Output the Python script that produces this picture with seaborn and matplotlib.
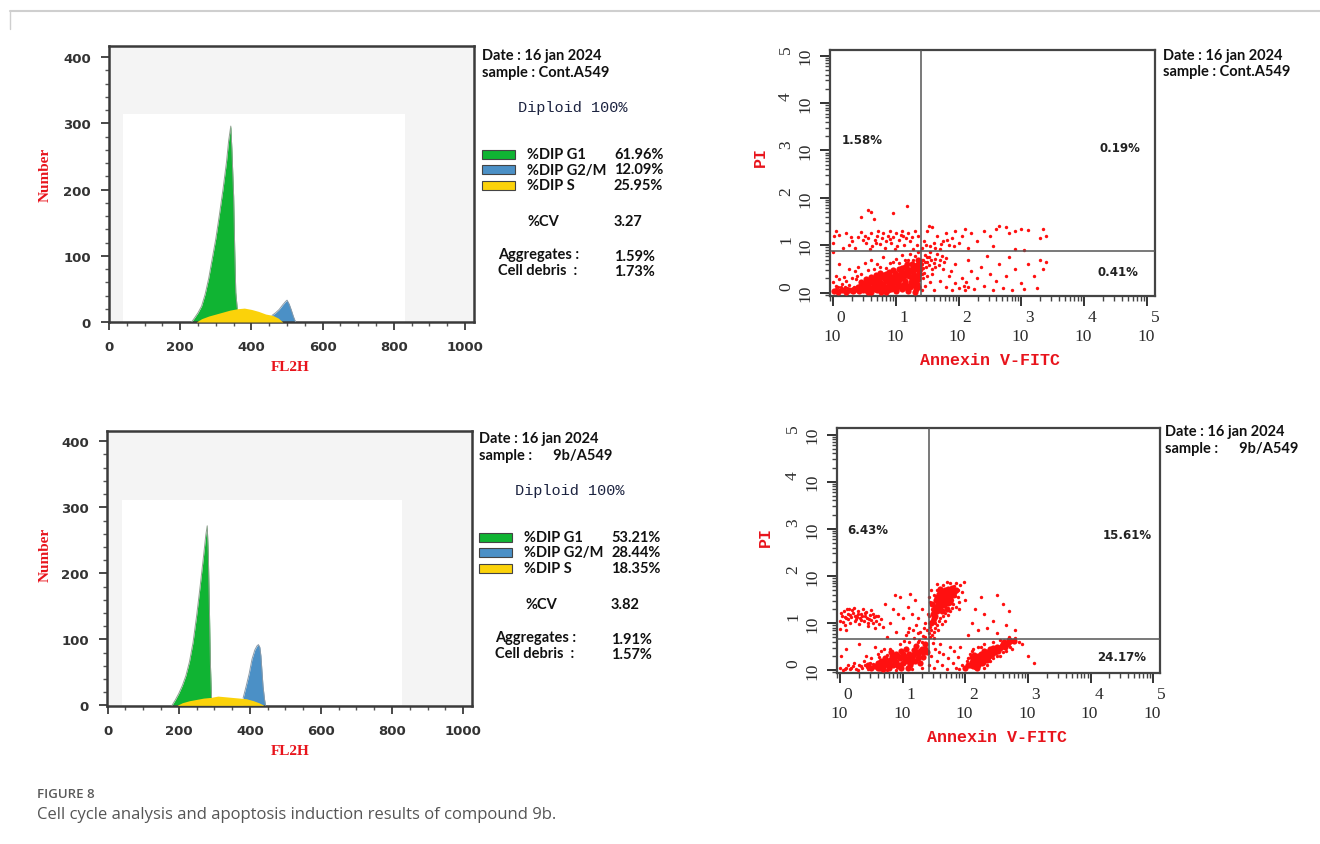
import numpy as np
import pandas as pd
import seaborn as sns
import matplotlib.pyplot as plt
from matplotlib.ticker import MultipleLocator, LogLocator, NullFormatter
from matplotlib.patches import Rectangle
from matplotlib.lines import Line2D

# %% data
# cell cycle histograms (FL2H channel, counts)
ctrl_g1_x = [232, 240, 250, 260, 270, 280, 290, 300, 310, 320, 330, 336, 342, 345, 350, 353, 356, 360]
ctrl_g1_y = [0, 6, 14, 24, 42, 66, 96, 126, 162, 200, 242, 274, 296, 262, 190, 110, 45, 21]
ctrl_s_x = [245, 260, 280, 300, 320, 340, 360, 380, 400, 420, 440, 460, 475, 488]
ctrl_s_y = [0, 5, 9, 12, 15, 18, 20, 21, 19, 16, 12, 10, 6, 0]
ctrl_g2_x = [458, 468, 478, 488, 496, 500, 506, 512, 518, 524]
ctrl_g2_y = [10, 14, 19, 26, 31, 33, 27, 18, 8, 0]

cpd_g1_x = [181, 190, 200, 210, 220, 230, 240, 250, 260, 270, 276, 280, 283, 286, 289, 292]
cpd_g1_y = [0, 8, 18, 30, 45, 66, 95, 135, 180, 228, 258, 272, 230, 150, 62, 12]
cpd_s_x = [195, 210, 230, 250, 270, 290, 310, 330, 350, 370, 390, 410, 425, 440]
cpd_s_y = [0, 4, 7, 9, 11, 12, 14, 13, 12, 11, 10, 7, 4, 0]
cpd_g2_x = [381, 390, 398, 406, 414, 420, 424, 428, 431, 434, 437, 441, 444]
cpd_g2_y = [11, 30, 48, 70, 84, 90, 92, 88, 75, 52, 29, 10, 0]

phase_labels = ['%DIP G1', '%DIP G2/M', '%DIP S']
ctrl_phase_vals = ['61.96%', '12.09%', '25.95%']
cpd_phase_vals = ['53.21%', '28.44%', '18.35%']
ctrl_cv, cpd_cv = '3.27', '3.82'
ctrl_aggr, ctrl_debris = '1.59%', '1.73%'
cpd_aggr, cpd_debris = '1.91%', '1.57%'

# annexin V / PI dot plots, coordinates in decades (log10)
ctrl_dense = [
    (0.42, 0.04), (0.47, 0.12), (0.5, 0.2), (0.53, 0.06), (0.56, 0.15), (0.58, 0.26), (0.61, 0.02), (0.63, 0.1),
    (0.65, 0.19), (0.67, 0.3), (0.7, 0.05), (0.72, 0.14), (0.74, 0.23), (0.76, 0.34), (0.78, 0.08), (0.8, 0.18),
    (0.82, 0.28), (0.84, 0.02), (0.86, 0.12), (0.88, 0.22), (0.9, 0.36), (0.92, 0.07), (0.94, 0.16), (0.96, 0.27),
    (0.98, 0.42), (1.0, 0.03), (1.02, 0.11), (1.04, 0.2), (1.06, 0.31), (1.08, 0.45), (1.1, 0.07), (1.12, 0.16),
    (1.14, 0.25), (1.16, 0.37), (1.18, 0.5), (1.2, 0.03), (1.22, 0.12), (1.24, 0.22), (1.26, 0.33), (1.28, 0.44),
    (1.3, 0.56), (1.32, 0.08), (1.34, 0.18), (1.36, 0.29), (1.37, 0.41), (1.38, 0.6), (1.35, 0.68), (1.25, 0.6),
    (1.15, 0.55), (1.05, 0.5), (0.95, 0.48), (0.85, 0.4), (0.75, 0.42), (0.68, 0.38), (0.6, 0.33), (0.52, 0.28),
    (0.45, 0.22), (0.4, 0.12), (1.3, 0.02), (0.55, 0.01), (0.62, 0.22), (0.73, 0.29), (0.83, 0.33), (0.93, 0.31),
    (1.03, 0.38), (1.13, 0.42), (1.23, 0.48), (1.33, 0.5), (0.87, 0.05), (0.97, 0.09), (1.07, 0.14), (1.17, 0.09),
    (1.27, 0.17), (0.77, 0.02), (0.69, 0.12), (0.59, 0.09), (0.48, 0.06), (1.11, 0.3), (1.01, 0.25), (0.91, 0.24),
    (0.81, 0.11), (0.71, 0.22), (1.21, 0.36), (1.31, 0.27), (1.36, 0.12),
    (0.02, 0.03), (0.08, 0.02), (0.14, 0.05), (0.2, 0.02), (0.26, 0.06), (0.32, 0.03), (0.37, 0.08), (0.44, 0.16),
    (0.51, 0.11), (0.57, 0.21), (0.64, 0.27), (0.7, 0.33), (0.79, 0.37), (0.89, 0.44), (0.99, 0.35), (1.09, 0.39),
    (1.19, 0.44), (1.29, 0.38), (1.38, 0.5), (1.34, 0.58), (1.27, 0.54), (1.18, 0.6), (1.1, 0.52), (0.66, 0.07),
    (0.74, 0.17), (0.85, 0.26), (0.95, 0.2), (1.05, 0.26), (1.15, 0.21), (1.25, 0.28), (1.35, 0.35), (0.53, 0.17),
    (0.46, 0.09), (0.9, 0.14), (1.0, 0.06), (1.2, 0.14),
]
ctrl_sparse = [
    # near origin
    (0.02, 0.02), (0.05, 0.08), (0.08, 0.01), (0.1, 0.05), (0.12, 0.12), (0.15, 0.03), (0.18, 0.07), (0.2, 0.0),
    (0.22, 0.1), (0.25, 0.04), (0.28, 0.08), (0.3, 0.02), (0.33, 0.12), (0.04, 0.15), (0.14, 0.18), (0.26, 0.16),
    (0.35, 0.05), (0.07, 0.11), (0.19, 0.13), (0.31, 0.09), (0.0, 0.22), (0.09, 0.28), (0.17, 0.33), (0.36, 0.28),
    # fringe of main population
    (0.3, 0.3), (0.35, 0.45), (0.4, 0.55), (0.5, 0.62), (0.6, 0.7), (0.7, 0.6), (0.8, 0.75), (0.9, 0.62),
    (1.0, 0.72), (1.1, 0.8), (1.2, 0.7), (1.3, 0.78), (0.25, 0.5), (0.1, 0.6), (0.05, 0.35), (0.2, 0.25),
    (0.65, 0.5), (0.95, 0.65), (1.22, 0.82), (1.36, 0.85), (0.45, 0.4), (0.55, 0.48), (0.75, 0.55), (0.85, 0.52),
    (1.05, 0.62), (1.15, 0.68), (1.28, 0.68), (0.38, 0.36),
    # upper left
    (0.02, 1.2), (0.05, 1.3), (0.1, 1.22), (0.2, 1.25), (0.3, 1.1), (0.35, 0.95), (0.4, 1.18), (0.45, 1.28),
    (0.5, 1.2), (0.52, 1.05), (0.55, 1.15), (0.6, 1.25), (0.62, 0.98), (0.66, 1.12), (0.7, 1.2), (0.72, 1.3),
    (0.75, 1.02), (0.78, 1.15), (0.8, 1.25), (0.83, 0.95), (0.85, 1.1), (0.88, 1.2), (0.9, 1.3), (0.93, 1.05),
    (0.96, 1.18), (1.0, 1.25), (1.02, 0.98), (1.05, 1.12), (1.08, 1.22), (1.1, 1.3), (1.13, 1.0), (1.16, 1.15),
    (1.2, 1.25), (1.23, 1.08), (1.26, 1.18), (1.3, 1.3), (1.33, 1.0), (1.36, 1.2), (0.15, 0.95), (0.25, 1.0),
    (0.58, 0.92), (0.98, 0.92), (1.28, 0.93), (0.55, 1.75), (0.6, 1.7), (0.45, 1.6), (0.95, 1.68), (1.18, 1.82),
    (0.65, 1.55), (0.0, 1.05), (0.0, 0.85), (0.47, 1.12), (0.68, 1.05), (0.91, 1.14), (1.12, 1.2), (0.28, 1.18),
    # upper right
    (1.42, 0.95), (1.45, 1.1), (1.5, 1.3), (1.55, 0.98), (1.6, 1.05), (1.65, 1.2), (1.7, 0.92), (1.75, 1.1),
    (1.8, 1.25), (1.85, 1.0), (1.9, 1.15), (1.95, 1.3), (2.0, 1.05), (2.05, 1.2), (2.1, 1.35), (2.15, 0.95),
    (2.2, 1.25), (2.3, 1.1), (2.4, 1.3), (2.5, 1.2), (2.6, 1.35), (2.65, 1.4), (2.75, 1.38), (2.8, 1.25),
    (2.9, 1.3), (3.0, 1.35), (3.1, 1.32), (3.3, 1.15), (3.35, 1.35), (3.4, 1.2), (2.55, 0.98), (2.9, 0.93),
    (3.05, 0.9), (1.52, 1.4), (1.58, 1.38), (1.48, 1.0), (1.62, 0.95), (1.72, 1.02), (1.82, 1.12), (1.92, 0.98),
    # just right of the gate
    (1.4, 0.5), (1.42, 0.6), (1.44, 0.7), (1.46, 0.8), (1.48, 0.55), (1.5, 0.65), (1.52, 0.75), (1.55, 0.85),
    (1.57, 0.5), (1.6, 0.62), (1.62, 0.72), (1.65, 0.82), (1.68, 0.58), (1.7, 0.68), (1.73, 0.78), (1.76, 0.64),
    (1.8, 0.74), (1.45, 0.42), (1.5, 0.35), (1.58, 0.4), (1.43, 0.3), (1.47, 0.15), (1.55, 0.22), (1.41, 0.05),
    (1.41, 0.68), (1.44, 0.52), (1.47, 0.64), (1.53, 0.58), (1.56, 0.7), (1.63, 0.55), (1.41, 0.4), (1.49, 0.76),
    # lower right
    (1.6, 0.05), (1.7, 0.25), (1.8, 0.12), (1.85, 0.35), (1.9, 0.05), (1.95, 0.2), (2.0, 0.1), (2.05, 0.3),
    (2.08, 0.15), (2.1, 0.05), (2.12, 0.22), (2.15, 0.12), (2.2, 0.45), (2.25, 0.08), (2.3, 0.3), (2.35, 0.55),
    (2.4, 0.15), (2.5, 0.4), (2.55, 0.05), (2.6, 0.25), (2.65, 0.6), (2.7, 0.1), (2.75, 0.35), (2.8, 0.75),
    (2.85, 0.05), (2.9, 0.5), (3.0, 0.2), (3.05, 0.08), (3.1, 0.6), (3.2, 0.35), (3.25, 0.1), (3.3, 0.7),
    (3.35, 0.5), (3.4, 0.65), (1.75, 0.5), (1.95, 0.6), (2.15, 0.7), (2.45, 0.78), (1.88, 0.45),
]

cpd_dense = [
    # lower left band
    (0.55, 0.08), (0.6, 0.15), (0.63, 0.05), (0.66, 0.2), (0.7, 0.1), (0.72, 0.25), (0.75, 0.15), (0.78, 0.05),
    (0.8, 0.22), (0.83, 0.3), (0.85, 0.12), (0.88, 0.2), (0.9, 0.35), (0.92, 0.08), (0.95, 0.25), (0.97, 0.4),
    (1.0, 0.15), (1.02, 0.3), (1.05, 0.45), (1.07, 0.2), (1.1, 0.35), (1.12, 0.1), (1.15, 0.28), (1.18, 0.42),
    (1.2, 0.2), (1.22, 0.52), (1.25, 0.35), (1.28, 0.15), (1.3, 0.45), (1.33, 0.28), (1.36, 0.55), (1.38, 0.38),
    (0.68, 0.02), (0.93, 0.3), (1.08, 0.05), (0.82, 0.38), (0.98, 0.05),
    (0.6, 0.05), (0.65, 0.12), (0.72, 0.18), (0.77, 0.1), (0.86, 0.28), (0.9, 0.18), (0.96, 0.12), (1.0, 0.35),
    (1.04, 0.22), (1.1, 0.25), (1.14, 0.18), (1.17, 0.32), (1.24, 0.25), (1.28, 0.4), (1.32, 0.38), (1.35, 0.45),
    (1.2, 0.4), (0.8, 0.14), (0.5, 0.05), (0.45, 0.1),
    # upper middle
    (1.45, 1.0), (1.48, 1.2), (1.5, 1.1), (1.52, 1.35), (1.55, 1.25), (1.57, 1.45), (1.6, 1.35), (1.62, 1.55),
    (1.63, 1.4), (1.65, 1.6), (1.67, 1.48), (1.68, 1.7), (1.7, 1.55), (1.72, 1.42), (1.74, 1.65), (1.76, 1.52),
    (1.78, 1.75), (1.8, 1.6), (1.58, 1.62), (1.53, 1.5), (1.62, 1.25), (1.7, 1.3), (1.85, 1.7), (1.47, 1.4),
    (1.6, 1.72), (1.5, 1.28), (1.56, 1.4), (1.6, 1.48), (1.64, 1.52), (1.66, 1.38), (1.69, 1.62), (1.73, 1.58),
    (1.75, 1.45), (1.58, 1.3), (1.55, 1.55), (1.64, 1.66), (1.72, 1.72), (1.82, 1.66), (1.52, 1.15), (1.48, 1.05),
    # lower right
    (2.05, 0.12), (2.1, 0.18), (2.12, 0.08), (2.15, 0.25), (2.18, 0.15), (2.2, 0.3), (2.22, 0.2), (2.25, 0.35),
    (2.27, 0.25), (2.3, 0.4), (2.32, 0.28), (2.35, 0.38), (2.38, 0.3), (2.4, 0.45), (2.43, 0.35), (2.46, 0.42),
    (2.5, 0.5), (2.53, 0.4), (2.56, 0.48), (2.6, 0.55), (2.64, 0.5), (2.68, 0.58), (2.72, 0.62), (2.2, 0.1),
    (2.28, 0.18), (2.35, 0.22), (2.14, 0.32), (2.0, 0.05),
    (2.08, 0.1), (2.16, 0.2), (2.2, 0.22), (2.24, 0.28), (2.26, 0.15), (2.3, 0.3), (2.33, 0.35), (2.36, 0.28),
    (2.4, 0.36), (2.42, 0.4), (2.45, 0.48), (2.48, 0.38), (2.52, 0.45), (2.58, 0.52), (2.62, 0.6), (2.66, 0.55),
    (2.7, 0.65), (2.78, 0.62), (2.18, 0.05), (2.1, 0.28),
]
cpd_sparse = [
    # upper left
    (0.0, 1.05), (0.03, 1.15), (0.06, 1.25), (0.08, 0.95), (0.1, 1.1), (0.12, 1.2), (0.14, 1.3), (0.16, 1.0),
    (0.18, 1.12), (0.2, 1.22), (0.22, 1.32), (0.24, 1.05), (0.26, 1.16), (0.28, 1.26), (0.3, 0.98), (0.32, 1.1),
    (0.34, 1.2), (0.36, 1.3), (0.38, 1.04), (0.4, 1.14), (0.42, 1.24), (0.44, 0.94), (0.46, 1.08), (0.48, 1.18),
    (0.5, 1.28), (0.52, 1.0), (0.54, 1.12), (0.56, 0.9), (0.58, 1.05), (0.6, 1.15), (0.62, 0.98), (0.65, 1.08),
    (0.68, 0.92), (0.05, 1.02), (0.15, 1.18), (0.25, 1.08), (0.35, 1.15), (0.45, 1.0), (0.0, 0.88), (0.1, 0.85),
    (0.02, 1.22), (0.07, 1.12), (0.13, 1.08), (0.19, 1.28), (0.23, 1.14), (0.29, 1.2), (0.33, 1.06), (0.39, 1.22),
    (0.43, 1.1), (0.49, 1.06), (0.53, 1.2), (0.57, 1.14), (0.11, 1.3), (0.27, 1.12),
    # lower left tail
    (0.05, 0.0), (0.1, 0.05), (0.15, 0.02), (0.2, 0.08), (0.25, 0.03), (0.3, 0.1), (0.35, 0.05), (0.4, 0.12),
    (0.45, 0.02), (0.48, 0.15), (0.12, 0.12), (0.22, 0.15), (0.38, 0.2), (0.5, 0.25), (0.0, 0.05), (0.28, 0.0),
    (0.42, 0.3), (0.6, 0.35), (0.7, 0.45), (0.55, 0.5), (0.1, 0.45), (0.3, 0.55), (0.02, 0.3),
    (0.08, 0.02), (0.18, 0.04), (0.33, 0.08), (0.43, 0.06), (0.52, 0.14), (0.62, 0.28), (0.75, 0.32),
    (0.65, 0.4), (0.8, 0.45), (0.95, 0.55), (1.1, 0.6), (1.25, 0.6), (0.9, 0.0), (1.15, 0.02), (1.3, 0.05),
    (0.75, 0.0),
    # around upper middle
    (1.43, 0.7), (1.45, 0.85), (1.5, 0.8), (1.55, 0.95), (1.58, 1.05), (1.65, 1.15), (1.75, 1.25), (1.8, 1.4),
    (1.88, 1.55), (1.92, 1.8), (1.95, 1.65), (1.85, 1.85), (1.7, 1.88), (1.55, 1.82), (1.45, 1.7), (1.42, 1.55),
    (2.0, 1.5), (1.9, 1.3), (1.98, 1.88), (1.5, 0.68), (1.44, 0.92), (1.46, 1.3), (1.42, 1.15), (1.52, 0.9),
    (1.6, 1.1), (1.68, 1.22), (1.78, 1.5), (1.84, 1.58), (1.42, 0.78), (1.47, 0.75),
    (1.4, 1.2), (1.43, 1.45), (1.5, 1.6), (1.55, 1.7), (1.65, 1.8), (1.75, 1.85), (1.82, 1.78), (1.88, 1.7),
    (1.9, 1.45), (1.85, 1.35), (1.78, 1.32), (1.72, 1.18), (1.68, 1.05), (1.62, 0.98), (1.57, 0.85), (1.52, 1.0),
    # between the populations
    (0.75, 0.7), (0.8, 1.0), (0.85, 1.3), (0.9, 0.8), (0.95, 1.55), (1.0, 1.1), (1.05, 0.75), (1.08, 1.35),
    (1.1, 0.9), (1.15, 1.2), (1.18, 0.68), (1.2, 1.5), (1.22, 0.95), (1.25, 1.1), (1.28, 0.8), (1.3, 1.3),
    (1.32, 0.72), (1.35, 1.0), (1.38, 0.85), (0.72, 1.4), (0.88, 1.6), (1.12, 1.62), (1.02, 0.62), (0.92, 1.2),
    (1.26, 0.64), (1.16, 0.85), (1.24, 0.78), (1.34, 0.9), (1.08, 0.82), (1.3, 0.6), (1.36, 0.7),
    # around lower right
    (1.9, 0.02), (1.95, 0.1), (2.02, 0.2), (2.08, 0.35), (2.12, 0.45), (2.25, 0.5), (2.4, 0.2), (2.5, 0.3),
    (2.6, 0.38), (2.75, 0.45), (2.8, 0.68), (2.85, 0.6), (2.9, 0.55), (3.0, 0.3), (3.1, 0.15), (2.45, 0.6),
    (2.3, 0.05), (2.55, 0.65), (2.7, 0.7),
    (2.1, 0.4), (2.2, 0.5), (2.3, 0.55), (2.35, 0.12), (2.45, 0.25), (2.55, 0.3), (2.65, 0.4), (2.72, 0.5),
    (2.05, 0.25), (2.15, 0.05),
    (1.42, 0.1), (1.45, 0.3), (1.5, 0.05), (1.52, 0.45), (1.55, 0.2), (1.6, 0.55), (1.62, 0.1), (1.65, 0.35),
    (1.7, 0.02), (1.72, 0.25), (1.75, 0.5), (1.8, 0.15), (1.82, 0.4), (1.85, 0.05), (1.88, 0.28), (1.92, 0.5),
    (1.58, 0.38), (1.48, 0.58),
    (2.05, 0.75), (2.1, 1.0), (2.15, 1.3), (2.2, 0.85), (2.3, 1.2), (2.35, 0.9), (2.45, 1.05), (2.5, 0.78),
    (2.6, 1.4), (2.65, 0.95), (2.7, 1.25), (2.8, 0.85), (2.5, 1.6), (2.25, 1.55),
]
ctrl_gate = (1.40, 0.88)
cpd_gate = (1.42, 0.67)
ctrl_quads = ['1.58%', '0.19%', '0.41%']
cpd_quads = ['6.43%', '15.61%', '24.17%']
decades = [0, 1, 2, 3, 4, 5]

# %% style
sns.set_style('ticks')
plt.rcParams['font.family'] = ['DejaVu Sans']

GREEN, BLUE, YELLOW = '#10b433', '#4b90c6', '#fbd20a'
DARK = '#333333'
NARROW = ['Lato', 'Liberation Sans', 'DejaVu Sans']
MONO = ['Liberation Mono', 'DejaVu Sans Mono']
SERIF = ['Liberation Serif', 'DejaVu Serif']

W, H = 1320, 845
fig = plt.figure(figsize=(W / 100, H / 100), dpi=100)


def add_ax(l, t, r, b):
    return fig.add_axes([l / W, 1 - b / H, (r - l) / W, (b - t) / H])


def txt(x, y, s, **kw):
    kw.setdefault('va', 'center')
    return fig.text(x / W, 1 - y / H, s, **kw)


def draw_hist(ax, g1x, g1y, sx, sy, g2x, g2y, xlim, ylim, white):
    ax.set_facecolor('#f4f4f4')
    ax.add_patch(Rectangle((white[0], 0), white[1] - white[0], white[2], color='white', lw=0, zorder=0.5))
    ax.fill_between(g1x, 0, g1y, color=GREEN, lw=0, zorder=2)
    ax.fill_between(g2x, 0, g2y, color=BLUE, lw=0, zorder=2)
    ax.fill_between(sx, 0, sy, color=YELLOW, lw=0, zorder=3)
    sns.lineplot(x=g1x, y=g1y, ax=ax, color='#8fa08f', lw=0.7, zorder=4)
    sns.lineplot(x=g2x, y=g2y, ax=ax, color='#8a9aa8', lw=0.7, zorder=4)
    ax.set_xlim(*xlim)
    ax.set_ylim(*ylim)
    ax.set_xticks(range(0, 1001, 200))
    ax.set_yticks(range(0, 401, 100))
    ax.xaxis.set_minor_locator(MultipleLocator(50))
    ax.yaxis.set_minor_locator(MultipleLocator(20))
    for sp in ax.spines.values():
        sp.set_color('#3a3a3a')
        sp.set_linewidth(1.8)
    ax.tick_params(which='major', direction='out', length=6, width=1.3, color='#3a3a3a',
                   labelsize=9.5, labelcolor=DARK, pad=7)
    ax.tick_params(which='minor', direction='out', length=3, width=1, color='#555555')
    for lab in ax.get_xticklabels() + ax.get_yticklabels():
        lab.set_fontweight('bold')
    ax.set_xlabel('')
    ax.set_ylabel('')


def draw_flow(ax, dense, sparse, gate, xlim, ylim):
    ax.set_xscale('log')
    ax.set_yscale('log')
    for pts, size in [(sparse, 6), (dense, 20)]:
        df = pd.DataFrame(pts, columns=['x', 'y'])
        sns.scatterplot(x=10 ** df['x'], y=10 ** df['y'], ax=ax, s=size, color='#ff1010',
                        linewidth=0, legend=False, zorder=3)
    ax.axvline(10 ** gate[0], color='#555555', lw=1.1, zorder=4)
    ax.axhline(10 ** gate[1], color='#555555', lw=1.1, zorder=4)
    ax.set_xlim(10 ** xlim[0], 10 ** xlim[1])
    ax.set_ylim(10 ** ylim[0], 10 ** ylim[1])
    for axis in (ax.xaxis, ax.yaxis):
        axis.set_major_locator(LogLocator(base=10, numticks=10))
        axis.set_minor_locator(LogLocator(base=10, subs=np.arange(2, 10), numticks=20))
        axis.set_major_formatter(NullFormatter())
        axis.set_minor_formatter(NullFormatter())
    for sp in ax.spines.values():
        sp.set_color('#444444')
        sp.set_linewidth(1.6)
    ax.tick_params(which='major', direction='out', length=7, width=1.4, color='#333333')
    ax.tick_params(which='minor', direction='out', length=3.5, width=1, color='#444444')
    lab = dict(family=SERIF, fontsize=12.5, color='#2a2a2a', ha='center', va='center',
               textcoords='offset pixels', annotation_clip=False)
    for k in decades:
        ax.annotate('10', xy=(10 ** k, 0), xycoords=ax.get_xaxis_transform(), xytext=(-1, -40), **lab)
        ax.annotate(str(k), xy=(10 ** k, 0), xycoords=ax.get_xaxis_transform(), xytext=(8, -21), **lab)
        ax.annotate('10', xy=(0, 10 ** k), xycoords=ax.get_yaxis_transform(), xytext=(-25, 0),
                    rotation=90, **lab)
        ax.annotate(str(k), xy=(0, 10 ** k), xycoords=ax.get_yaxis_transform(), xytext=(-44, 7),
                    rotation=90, **lab)
    ax.set_xlabel('')
    ax.set_ylabel('')


# %% cell cycle panels
ax1 = add_ax(109, 47, 474, 323)
draw_hist(ax1, ctrl_g1_x, ctrl_g1_y, ctrl_s_x, ctrl_s_y, ctrl_g2_x, ctrl_g2_y,
          (0, 1025), (0, 417), (40, 830, 315))
ax3 = add_ax(107, 432, 472, 707)
draw_hist(ax3, cpd_g1_x, cpd_g1_y, cpd_s_x, cpd_s_y, cpd_g2_x, cpd_g2_y,
          (-2, 1025), (-1, 415.6), (40, 828, 311))

# %% apoptosis panels
ax2 = add_ax(830, 51, 1155, 297)
draw_flow(ax2, ctrl_dense, ctrl_sparse, ctrl_gate, (-0.05, 5.13), (-0.07, 5.12))
ax4 = add_ax(837, 429, 1160, 674)
draw_flow(ax4, cpd_dense, cpd_sparse, cpd_gate, (-0.05, 5.11), (-0.06, 5.14))

# %% axis titles
red_serif = dict(family=SERIF, fontweight='bold', color='#e8141c', fontsize=11, ha='center')
red_mono = dict(family=MONO, fontweight='bold', color='#e8141c', fontsize=12, ha='center')
for y_num, y_fl in [(175, 368), (555, 752)]:
    txt(45, y_num, 'Number', rotation=90, **red_serif)
    txt(290, y_fl, 'FL2H', **red_serif)
txt(990, 361, 'Annexin V-FITC', **red_mono)
txt(997, 738, 'Annexin V-FITC', **red_mono)
txt(760, 157, 'PI', rotation=90, **red_mono)
txt(765, 537, 'PI', rotation=90, **red_mono)

# %% side text of the cell cycle panels
bold = dict(family=NARROW, fontweight='bold', fontsize=10.5, color='#111111')
for dx, dy, sample, vals, cv, aggr, debris in [
        (0, 0, 'sample : Cont.A549', ctrl_phase_vals, ctrl_cv, ctrl_aggr, ctrl_debris),
        (-3, 383, 'sample :      9b/A549', cpd_phase_vals, cpd_cv, cpd_aggr, cpd_debris)]:
    txt(482 + dx, 56 + dy, 'Date : 16 jan 2024', **bold)
    txt(482 + dx, 73 + dy, sample, **bold)
    txt(518 + dx, 108 + dy, 'Diploid 100%', family=MONO, fontsize=11, color='#1c2340')
    for i, (name, col, val) in enumerate(zip(phase_labels, [GREEN, BLUE, YELLOW], vals)):
        yy = [155, 170.5, 186][i] + dy
        fig.add_artist(Rectangle(((482 + dx) / W, 1 - (yy + 4.5) / H), 33 / W, 9 / H,
                                 facecolor=col, edgecolor='#444444', lw=0.8))
        txt(527 + dx, yy, name, **bold)
        txt(614 + dx, yy, val, **bold)
    txt(528 + dx, 222 + dy, '%CV', **bold)
    txt(614 + dx, 222 + dy, cv, **bold)
    txt(498 + dx, 255 + dy, 'Aggregates :', **bold)
    txt(614 + dx, 257 + dy, aggr, **bold)
    txt(498 + dx, 271 + dy, 'Cell debris  :', **bold)
    txt(614 + dx, 272 + dy, debris, **bold)

# %% side text of the dot plots
txt(1163, 56, 'Date : 16 jan 2024', **bold)
txt(1163, 72, 'sample : Cont.A549', **bold)
txt(1165, 432, 'Date : 16 jan 2024', **bold)
txt(1165, 449, 'sample :      9b/A549', **bold)

quad = dict(fontweight='bold', fontsize=8.5, color='#222222')
for (x, y), s in zip([(842, 140), (1100, 149), (1098, 273)], ctrl_quads):
    txt(x, y, s, **quad)
for (x, y), s in zip([(847, 530), (1103, 536), (1097, 658)], cpd_quads):
    txt(x, y, s, **quad)

# %% frame and caption
fig.add_artist(Line2D([10 / W, 1], [1 - 12 / H] * 2, color='#cfcfcf', lw=1.5))
fig.add_artist(Line2D([10 / W] * 2, [1 - 12 / H, 1 - 30 / H], color='#cfcfcf', lw=1))
txt(37, 795, 'FIGURE 8', family=['Open Sans', 'DejaVu Sans'], fontweight='semibold',
    fontsize=9.5, color='#5a5a5a')
txt(37, 815, 'Cell cycle analysis and apoptosis induction results of compound 9b.',
    family=['Open Sans', 'DejaVu Sans'], fontsize=12, color='#555555')

fig.savefig('out.png', dpi=100)
